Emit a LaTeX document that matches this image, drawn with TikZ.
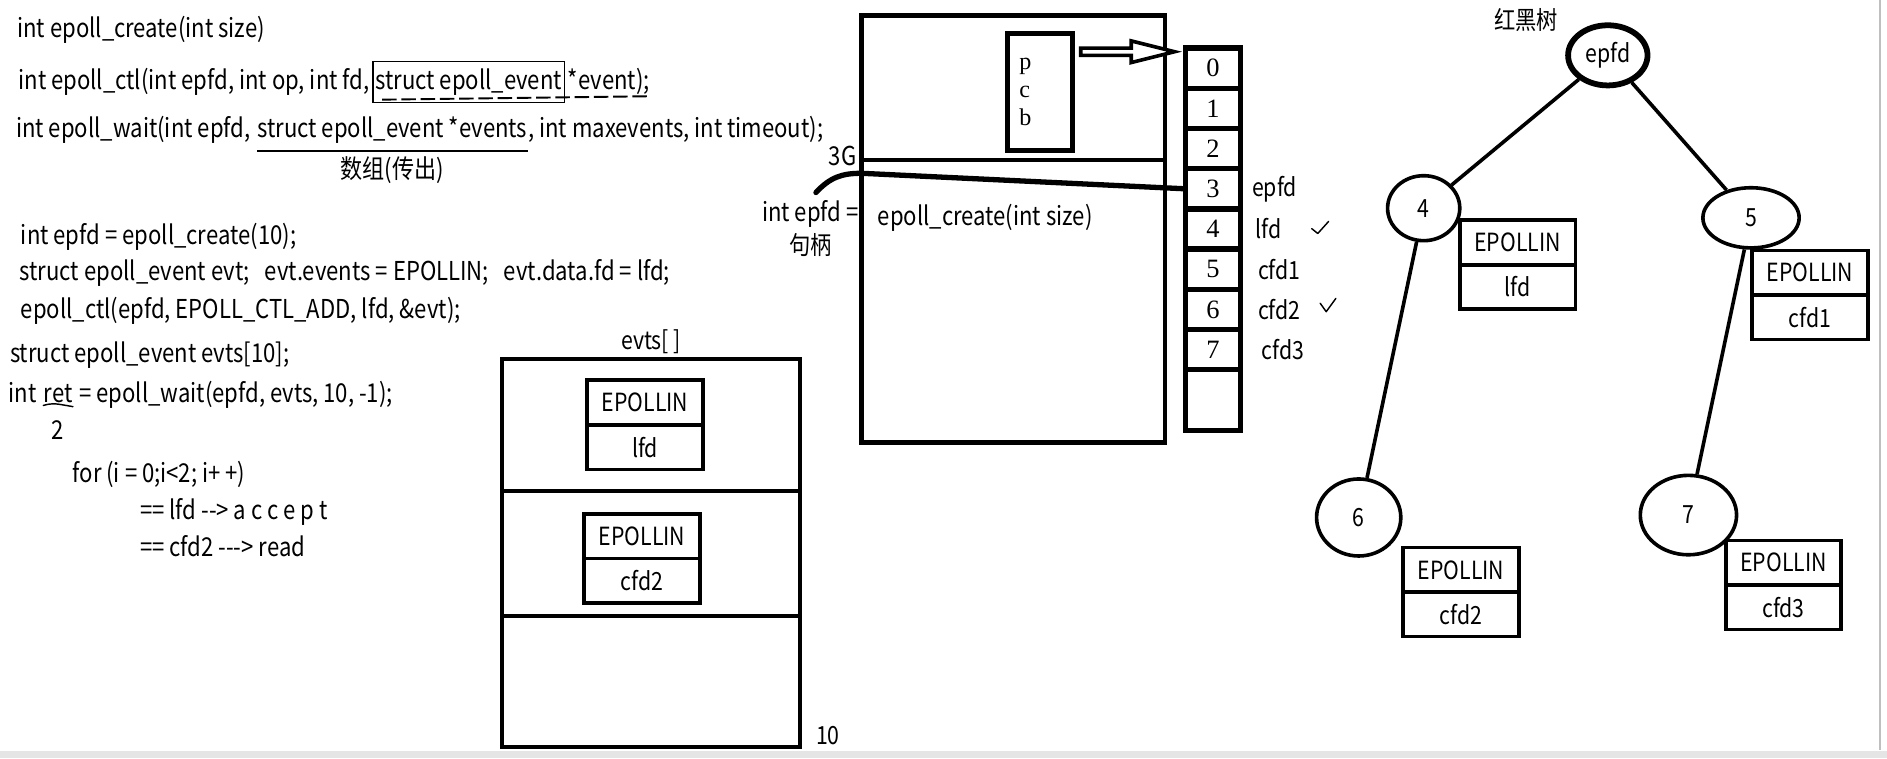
\documentclass[tikz,border=0pt]{standalone}
\usepackage{fontspec}
\setmainfont{Noto Sans CJK SC}[FakeStretch=0.85]
\newfontfamily\simfont{Liberation Serif}
\usetikzlibrary{positioning,shapes.geometric}

\begin{document}
\begin{tikzpicture}[
    x=0.5pt, y=-0.5pt,
    code/.style={anchor=west, inner sep=1pt, font=\fontsize{10.8}{13}\selectfont},
    lbl/.style={inner sep=1pt, font=\fontsize{10.4}{12}\selectfont},
    slot/.style={draw, line width=1.6pt, minimum width=124pt, outer sep=0pt},
    evtop/.style={draw, line width=1.5pt, minimum width=48pt, minimum height=18.5pt, outer sep=0pt, inner sep=0pt, font=\fontsize{10.4}{12}\selectfont},
    fdcell/.style={draw, line width=2.2pt, minimum width=23pt, minimum height=16.7pt, outer sep=0pt, inner sep=0pt, font=\simfont\fontsize{11}{13}\selectfont},
    tnode/.style={ellipse, draw, line width=1.5pt, inner sep=0pt, font=\fontsize{10.4}{12}\selectfont},
    edge/.style={line width=1.5pt},
    hand/.style={line width=0.6pt, line cap=round, line join=round}
]
    \useasboundingbox (0,0) rectangle (1568,630);

    % prototypes
    \node[code] (create) at (12,25) {int epoll\_create(int size)};
    \node[code] (ctl) at (13,68) {int epoll\_ctl(int epfd, int op, int fd,};
    \node[code, anchor=base west, draw, line width=0.5pt, inner ysep=3pt] (ctlbox) at (ctl.base east) {struct epoll\_event};
    \node[code, anchor=base west] (ctlptr) at (ctlbox.base east) {*event);};
    \draw[line width=0.8pt, dash pattern=on 6pt off 2pt] ([xshift=4pt,yshift=1.5pt]ctlbox.south west) -- ([xshift=-2pt,yshift=0.5pt]ctlptr.south east);

    \node[code, inner xsep=0pt] (wait1) at (13,108) {int epoll\_wait(int epfd,};
    \node[code, anchor=base west, inner xsep=0pt] (wait2) at ([xshift=0.25em]wait1.base east) {struct epoll\_event *events};
    \node[code, anchor=base west, inner xsep=0pt] (wait3) at (wait2.base east) {, int maxevents, int timeout);};
    \draw[line width=0.8pt] ([yshift=-2pt]wait2.south west) -- ([yshift=-2pt]wait2.south east);
    \node[code, anchor=north] (outarr) at ([yshift=-3pt]wait2.south) {数组(传出)};

    % usage
    \node[code] (c1) at (15,197) {int epfd = epoll\_create(10);};
    \node[code] (c2) at (14,227) {struct epoll\_event evt;\ \ \ evt.events = EPOLLIN;\ \ \ evt.data.fd = lfd;};
    \node[code] (c3) at (15,258) {epoll\_ctl(epfd, EPOLL\_CTL\_ADD, lfd, \&evt);};
    \node[code] (c4) at (6,295) {struct epoll\_event evts[10];};
    \node[code, inner xsep=0pt] (c5a) at (7,326) {int};
    \node[code, anchor=base west, inner xsep=0pt] (c5b) at ([xshift=0.25em]c5a.base east) {ret};
    \node[code, anchor=base west, inner xsep=0pt] (c5c) at ([xshift=0.25em]c5b.base east) {= epoll\_wait(epfd, evts, 10, -1);};
    \draw[hand] (c5b.south west) .. controls ([xshift=4pt,yshift=1pt]c5b.south west) .. ([yshift=-0.5pt]c5b.south east);
    \node[code, anchor=north] (ret2) at ([yshift=-5pt]c5b.south) {2};
    \node[code] (c6) at (58,394) {for (i = 0;i<2; i+\,+)};
    \node[code] (c7) at (114,425) {== lfd -{}-{}> a c c e p t};
    \node[code] (c8) at (114,454) {== cfd2 -{}-{}-{}> read};

    % evts array
    \node[slot, minimum height=55pt] (slot1) at (541,353) {};
    \node[slot, minimum height=52pt, below=0pt of slot1] (slot2) {};
    \node[slot, minimum height=54.5pt, below=0pt of slot2] (slot3) {};
    \node[lbl, above=1pt of slot1] (evtslbl) {evts[ ]};
    \node[lbl] (ten) at (688,611) {10};

    % epoll_event boxes
    \foreach \n/\x/\y/\f in {ea/536/334.5/lfd, eb/533.5/445.5/cfd2, ec/1261/201.5/lfd,
                             ed/1504/226.5/cfd1, ee/1214/473.5/cfd2, ef/1482/467.5/cfd3} {
        \node[evtop] (\n-top) at (\x,\y) {EPOLLIN};
        \node[evtop, below=0pt of \n-top] (\n-bot) {\f};
    }

    % kernel space
    \node[draw, line width=2pt, outer sep=0pt, minimum width=126pt, minimum height=177.5pt] (kernel) at (842,190.5) {};
    \node[draw, line width=2pt, outer sep=0pt, minimum width=27pt, minimum height=48.5pt, text width=17pt, inner xsep=5pt,
          align=left, font=\simfont\fontsize{10}{11.5}\selectfont] (pcb) at (864,76.5) {p\\c\\b};
    \draw[line width=2pt] (716,133) -- (968,133);
    \node[code, anchor=east] (threeg) at (714,130) {3G};
    \node[code, anchor=east] (handle) at (716,178) {int epfd =};
    \node[lbl, below=0pt of handle] (handlecn) {句柄};
    \node[code] (kcreate) at (727,181) {epoll\_create(int size)};

    % fd table
    \foreach \i in {0,...,7}
        \node[fdcell] (fd\i) at (1008,{56.7+33.4*\i}) {\i};
    \node[fdcell, minimum height=25.5pt] (fdx) at (1008,332.5) {};

    \draw[line width=1.5pt, line join=miter, fill=white]
        (898,40) -- (940,40) -- (940,34) -- (976,43) -- (940,52) -- (940,46) -- (898,46) -- cycle;

    \coordinate (hstart) at (678,160);
    \draw[line width=2.2pt, line cap=round] (hstart) .. controls (690,147) and (700,144) .. (716,144) -- (fd3.west);

    \node[lbl, anchor=west] (lepfd) at ([xshift=3.5pt]fd3.east) {epfd};
    \node[lbl, anchor=west] (llfd) at ([xshift=5pt]fd4.east) {lfd};
    \node[lbl, anchor=west] (lcfd1) at ([xshift=6pt]fd5.east) {cfd1};
    \node[lbl, anchor=west] (lcfd2) at ([xshift=6pt]fd6.east) {cfd2};
    \node[lbl, anchor=west] (lcfd3) at ([xshift=7.5pt]fd7.east) {cfd3};
    \draw[hand] (1090,190) -- (1095,194) -- (1104,184);
    \draw[hand] (1097,252) -- (1102,259) -- (1110,248);

    % red-black tree
    \node[lbl] (rbt) at (1268,17) {红黑树};
    \node[tnode, line width=2.4pt, minimum width=33pt, minimum height=25pt] (root) at (1336,46) {epfd};
    \node[tnode, minimum width=30pt, minimum height=27pt] (t4) at (1183,173) {4};
    \node[tnode, minimum width=40pt, minimum height=25pt] (t5) at (1455,181) {5};
    \node[tnode, minimum width=35pt, minimum height=32pt] (t6) at (1129,430) {6};
    \node[tnode, minimum width=40pt, minimum height=33pt] (t7) at (1403,428) {7};
    \draw[edge] (root) -- (t4);
    \draw[edge] (root) -- (t5);
    \draw[edge] (t4) -- (t6);
    \draw[edge] (t5) -- (t7);

    % window edge
    \draw[black!25, line width=1pt] (1562,0) -- (1562,623);
    \fill[black!10] (0,624) rectangle (1568,630);
\end{tikzpicture}
\end{document}
